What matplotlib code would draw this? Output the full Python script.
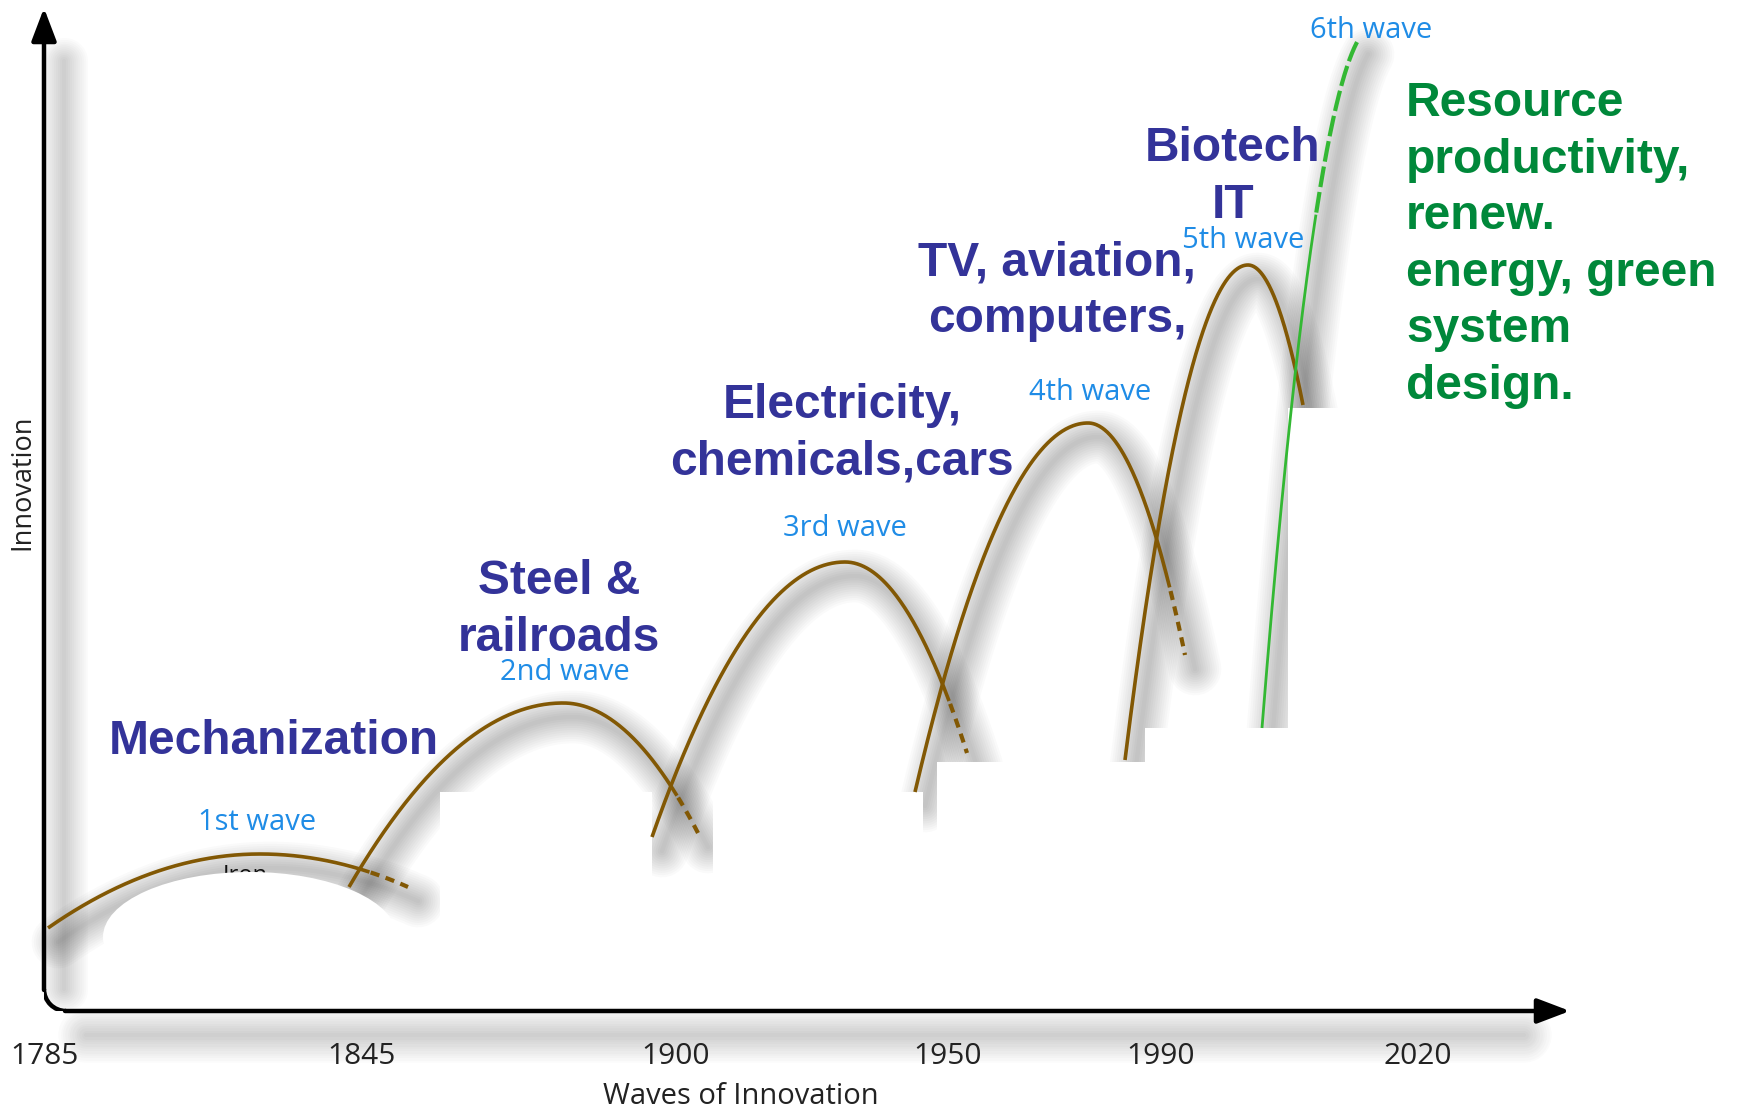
import numpy as np
import matplotlib
matplotlib.use("Agg")
import matplotlib.pyplot as plt
from matplotlib.patches import Rectangle, Ellipse, Arc

# ---------------- data (chart units: origin at axes corner) ----------------
wave_names = ["1st wave", "2nd wave", "3rd wave", "4th wave", "5th wave", "6th wave"]
wave_start_x = [4, 305, 608, 871, 1081, 1218]
wave_start_y = [83, 124, 174, 219, 251, 283]
wave_peak_x = [216, 519, 801, 1044, 1204, 1330]
wave_peak_y = [157, 308, 449, 588, 746, 985]
wave_end_x = [364, 654, 923, 1141, 1259, 1314]
wave_end_y = [124, 178, 258, 356, 606, 960]
wave_solid_end_x = [326, 634, 906, 1126, 1259, 1272]
wave_label_x = [213, 521, 801, 1046, 1199, 1327]
wave_label_y = [188, 338, 483, 619, 771, 980]

topic_labels = ["Mechanization", "Steel &\nrailroads", "Electricity,\nchemicals,cars",
                "TV, aviation,\ncomputers,", "Biotech\nIT"]
topic_x = [230, 515, 798, 1013, 1189]
topic_y = [270, 401, 577, 720, 834]

green_text = "Resource\nproductivity,\nrenew.\nenergy, green\nsystem\ndesign."
green_text_x = 1362
green_text_y = 766

tick_labels = ["1785", "1845", "1900", "1950", "1990", "2020"]
tick_pos = [1, 318, 632, 904, 1117, 1374]

# masking boxes seen in the picture (x0, y0, width, height)
mask_boxes = [(396, 40, 212, 179), (669, 40, 210, 179), (893, 40, 208, 209),
              (1101, 40, 194, 243), (1244, 40, 262, 563), (1295, 40, 241, 208)]
mask_ellipse = (206, 74, 294, 130)

# ---------------- styling ----------------
BROWN = "#825804"
GREEN_LINE = "#33b833"
WAVE_BLUE = "#1f8ce6"
TOPIC_BLUE = "#333399"
GREEN_TXT = "#00883a"

fig = plt.figure(figsize=(17.39, 11.15), dpi=100)
fig.patch.set_facecolor("white")
ax = fig.add_axes([44 / 1739, 104 / 1115, 1526 / 1739, 1003 / 1115])
ax.set_xlim(0, 1526)
ax.set_ylim(0, 1003)
ax.axis("off")


def curve(i, n=300):
    xs, ys = wave_start_x[i], wave_start_y[i]
    xp, yp = wave_peak_x[i], wave_peak_y[i]
    xe, ye = wave_end_x[i], wave_end_y[i]
    kL = (yp - ys) / (xp - xs) ** 2
    kR = (yp - ye) / (xe - xp) ** 2 if xe > xp else kL
    x = np.linspace(xs, xe, n)
    y = np.where(x <= xp, yp - kL * (x - xp) ** 2, yp - kR * (x - xp) ** 2)
    return x, y


def shadow(x, y, dx=10, dy=-14, wmax=38, strength=0.02, cap="round"):
    for lw in np.linspace(wmax, 3, 12):
        ax.plot(np.asarray(x) + dx, np.asarray(y) + dy, color="black", lw=lw,
                alpha=strength, solid_capstyle=cap, zorder=1, clip_on=False)


# axes (with rounded corner) and their shadows
r = 22
shadow([14, 14], [r, 950], dx=6, dy=0, wmax=34, strength=0.014, cap="round")
shadow([r + 20, 1480], [-8, -8], dx=0, dy=-16, wmax=40, strength=0.016, cap="round")
ax.add_patch(Arc((r, r), 2 * r, 2 * r, theta1=180, theta2=270, lw=3.2,
                 color="black", zorder=5))
arrow_style = "-|>,head_length=1.0,head_width=0.38"
ax.annotate("", xy=(0, 1003), xytext=(0, r - 1),
            arrowprops=dict(arrowstyle=arrow_style, lw=3.2, color="black",
                            mutation_scale=20, shrinkA=0, shrinkB=0),
            zorder=5, annotation_clip=False)
ax.annotate("", xy=(1526, 0), xytext=(r - 1, 0),
            arrowprops=dict(arrowstyle=arrow_style, lw=3.2, color="black",
                            mutation_scale=20, shrinkA=0, shrinkB=0),
            zorder=5, annotation_clip=False)

# waves
curves = [curve(i) for i in range(len(wave_names))]
for i, (x, y) in enumerate(curves):
    shadow(x, y)

# partially hidden "Iron" label under the mask
ax.text(201, 147, "Iron", fontsize=17, family="Open Sans", color="#111111",
        ha="center", va="top", zorder=1.5)

for (x0, y0, w, h) in mask_boxes:
    ax.add_patch(Rectangle((x0, y0), w, h, facecolor="white", edgecolor="none", zorder=2))
ex, ey, ew, eh = mask_ellipse
ax.add_patch(Ellipse((ex, ey), ew, eh, facecolor="white", edgecolor="none", zorder=2))

for i, (x, y) in enumerate(curves):
    green = i == len(wave_names) - 1
    col = GREEN_LINE if green else BROWN
    xs_end = wave_solid_end_x[i]
    solid = x <= xs_end
    dash = x >= xs_end
    ax.plot(x[solid], y[solid], color=col, lw=2.0 if green else 2.6, zorder=3,
            solid_capstyle="butt")
    if dash.sum() > 1:
        ls = (0, (5, 1.2)) if green else (0, (2.2, 1.6))
        ax.plot(x[dash], y[dash], color=col, lw=3.0, ls=ls, zorder=3,
                dash_capstyle="butt")

# wave labels
for name, lx, ly in zip(wave_names, wave_label_x, wave_label_y):
    ax.text(lx, ly, name, fontsize=21, family="Open Sans", color=WAVE_BLUE,
            ha="center", va="center", zorder=4)

# topic labels
for t, tx, ty in zip(topic_labels, topic_x, topic_y):
    ax.text(tx, ty, t, fontsize=34.5, family="Liberation Sans", fontweight="bold",
            color=TOPIC_BLUE, ha="center", va="center", linespacing=1.33,
            zorder=4, multialignment="center")

ax.text(green_text_x, green_text_y, green_text, fontsize=34.5, family="Liberation Sans",
        fontweight="bold", color=GREEN_TXT, ha="left", va="center",
        linespacing=1.33, zorder=4, clip_on=False)

# tick labels and axis titles
for lab, p in zip(tick_labels, tick_pos):
    ax.text(p, -45.5, lab, fontsize=21.5, family="Open Sans", color="#222222",
            ha="center", va="center", clip_on=False, zorder=6)

ax.text(-22, 529, "Innovation", fontsize=19.5, family="Open Sans", color="#222222",
        rotation=90, ha="center", va="center", clip_on=False)
ax.text(697, -100, "Waves of Innovation", fontsize=21, family="Open Sans",
        color="#222222", ha="center", va="bottom", clip_on=False)

fig.savefig("out.png", dpi=100)
